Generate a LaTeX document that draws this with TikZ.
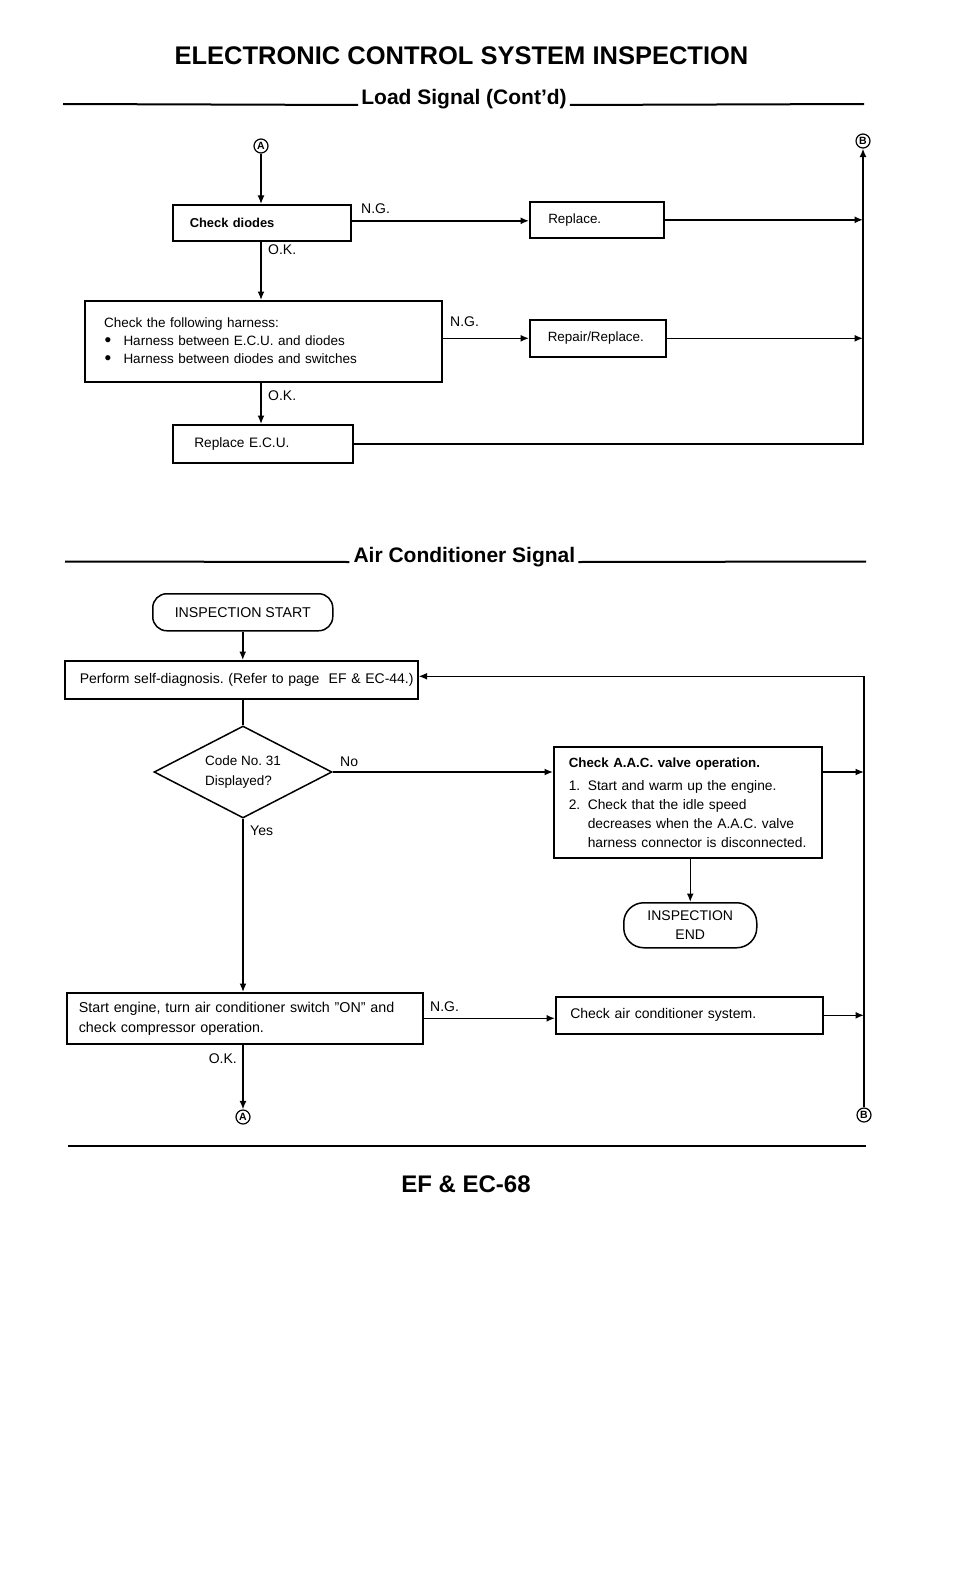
\documentclass[tikz,border=0pt]{standalone}
\usepackage{fontspec}
\setmainfont{Liberation Sans}
\usetikzlibrary{arrows.meta,shapes.geometric}
\newcommand\fs[2]{\fontsize{#1}{#2}\selectfont}
\newcommand\bul{\makebox[19.4pt][l]{\hspace{0.5pt}\raisebox{-1.2pt}{\fontsize{19}{19}\selectfont\textbullet}}}
\frenchspacing
\tikzset{
  box/.style={draw, line width=1.6pt, rectangle, anchor=north west, inner ysep=0pt, align=left},
  term/.style={draw, line width=1.5pt, rectangle, anchor=north west, inner sep=0pt, align=center},
  conn/.style={line width=1.5pt},
  arr/.style={line width=1.5pt, -{Latex[length=8.5pt,width=7pt]}},
  lbl/.style={inner sep=0pt, anchor=base west, font=\fs{14}{16}},
  circ/.style={draw, circle, line width=1.2pt, minimum size=14pt, inner sep=0pt, font=\bfseries\fs{10.5}{10.5}},
  rulel/.style={line width=2pt},
  head/.style={inner sep=0pt, anchor=base, font=\bfseries\fs{21}{24}}
}
\begin{document}
\begin{tikzpicture}[x=1pt,y=-1pt]
\useasboundingbox (0,0) rectangle (960,1581);
\fill[white] (0,0) rectangle (960,1581);

% title and heading 1
\node[inner sep=0pt, anchor=base, font=\bfseries\fs{25.5}{30}] (title) at (461.5,65) {ELECTRONIC CONTROL SYSTEM INSPECTION};
\node[head] (h1) at (464,105) {Load Signal (Cont'd)};
\draw[rulel] (63,104) -- ([xshift=-3pt]h1.base west);
\draw[rulel] ([xshift=3pt]h1.base east) -- (864,104);

% section 1
\node[circ] (Atop) at (261,146) {A};
\node[circ] (Btop) at (863,141) {B};
\node[box, minimum width=178pt, minimum height=36pt, inner xsep=17pt, text width=144pt, font=\bfseries\fs{12.9}{15}] (diodes) at (172,204) {Check diodes};
\node[box, minimum width=134pt, minimum height=36pt, inner xsep=18.5pt, text width=97pt, font=\fs{13.4}{16}] (replace) at (529,201) {Replace.};
\node[box, minimum width=357pt, minimum height=81pt, inner xsep=19.3pt, text width=318.4pt, font=\fs{13.5}{18}] (harness) at (84,300) {Check the following harness:\\\bul Harness between E.C.U. and diodes\\\bul Harness between diodes and switches};
\node[box, minimum width=136pt, minimum height=37pt, inner xsep=18pt, text width=100pt, font=\fs{13.4}{16}] (repair) at (529,319) {Repair/Replace.};
\node[box, minimum width=180pt, minimum height=38pt, inner xsep=21.5pt, text width=137pt, font=\fs{13.7}{16}] (ecu) at (172,424) {Replace E.C.U.};

\node[lbl] (ng1) at (361,213.5) {N.G.};
\node[lbl] (ok1) at (268,254) {O.K.};
\node[lbl] (ng2) at (450,326.5) {N.G.};
\node[lbl] (ok2) at (268,400) {O.K.};

\draw[arr] (Atop.south) -- (Atop.south |- diodes.north);
\draw[arr] ([yshift=2pt]diodes.east) -- ([yshift=2pt]diodes.east -| replace.west);
\draw[arr] (replace.east) -- (replace.east -| Btop);
\draw[arr] (Atop.south |- diodes.south) -- (Atop.south |- harness.north);
\draw[arr] (repair.west -| harness.east) -- (repair.west);
\draw[arr] (repair.east) -- (repair.east -| Btop);
\draw[arr] (Atop.south |- harness.south) -- (Atop.south |- ecu.north);
\draw[arr] (ecu.east) -| (Btop.south);

% heading 2
\node[head] (h2) at (464.4,562) {Air Conditioner Signal};
\draw[rulel] (65,561.5) -- ([xshift=-4pt]h2.base west);
\draw[rulel] ([xshift=3pt]h2.base east) -- (866,561.5);

% section 2
\node[term, minimum width=180pt, minimum height=37pt, rounded corners=14pt, font=\fs{14.2}{16}] (start) at (152,593) {INSPECTION START};
\node[box, minimum width=353pt, minimum height=38pt, inner xsep=15pt, text width=323pt, font=\fs{14}{16}] (perform) at (64,660) {\mbox{Perform self-diagnosis. (Refer to page\ \ EF \& EC-44.)}};
\node[draw, diamond, line width=1.5pt, aspect=1.93, minimum width=178pt, minimum height=92pt, inner sep=0pt, align=left, font=\fs{13.5}{20.5}] (dia) at (243,772) {Code No. 31\\Displayed?};
\node[box, minimum width=268pt, minimum height=111pt, inner xsep=15pt, text width=238pt, font=\fs{13.8}{19}] (aac) at (553,746) {{\bfseries\fs{13.3}{19}Check A.A.C. valve operation.}\\[4pt]\makebox[19pt][l]{1.}Start and warm up the engine.\\\makebox[19pt][l]{2.}Check that the idle speed\\\hspace*{19pt}decreases when the A.A.C. valve\\\hspace*{19pt}harness connector is disconnected.};
\node[term, minimum width=133pt, minimum height=45pt, rounded corners=20pt, font=\fs{14}{19}] (end) at (623,902) {INSPECTION\\END};
\node[box, minimum width=356pt, minimum height=51pt, inner xsep=12pt, text width=332pt, font=\fs{14.3}{20}] (engine) at (66,992) {Start engine, turn air conditioner switch ''ON'' and\\check compressor operation.};
\node[box, minimum width=267pt, minimum height=37pt, inner xsep=14.5pt, text width=238pt, font=\fs{14}{16}] (checkair) at (555,996) {Check air conditioner system.};

\node[circ] (Abot) at (243,1117) {A};
\node[circ] (Bbot) at (864,1115) {B};

\node[lbl] (no) at (340,766.7) {No};
\node[lbl] (yes) at (250,835.7) {Yes};
\node[lbl] (ng3) at (430,1011.7) {N.G.};
\node[lbl, anchor=base east] (ok3) at (237,1063.3) {O.K.};

\draw[arr] (start.south) -- (start.south |- perform.north);
\draw[conn] (dia.north |- perform.south) -- (dia.north);
\draw[arr] (dia.east) -- (dia.east -| aac.west);
\draw[arr] (dia.east -| aac.east) -- (dia.east -| Bbot);
\draw[arr] (end.north |- aac.south) -- (end.north);
\draw[arr] (dia.south) -- (dia.south |- engine.north);
\draw[arr] (engine.east) -- (engine.east -| checkair.west);
\draw[arr] (checkair.east) -- (checkair.east -| Bbot);
\draw[arr] (Bbot.north) |- ([yshift=3.5pt]perform.east);
\draw[arr] (Abot.north |- engine.south) -- (Abot.north);

% bottom rule and footer
\draw[line width=2.6pt] (68,1146) -- (866,1146);
\node[inner sep=0pt, anchor=base, font=\bfseries\fs{24}{28}] (footer) at (466,1192.5) {EF \& EC-68};
\end{tikzpicture}
\end{document}
